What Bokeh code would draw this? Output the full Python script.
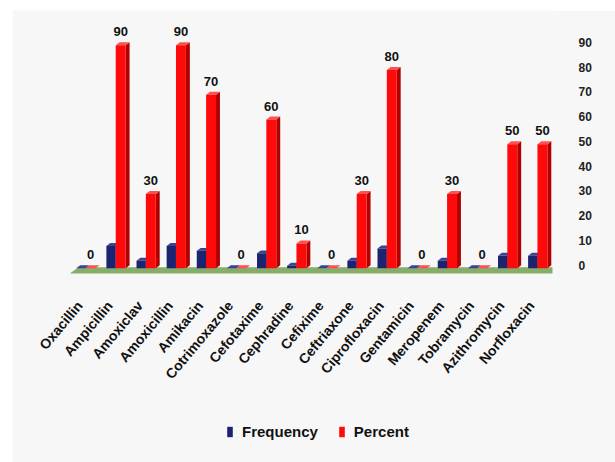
import math
from bokeh.plotting import figure
from bokeh.models import Range1d, FixedTicker, Legend, LegendItem
from bokeh.embed import file_html
from bokeh.resources import INLINE
from bokeh.core.properties import value

# Antibiotic susceptibility: frequency (n) and percent per drug
drugs = ["Oxacillin", "Ampicillin", "Amoxiclav", "Amoxicillin", "Amikacin",
         "Cotrimoxazole", "Cefotaxime", "Cephradine", "Cefixime", "Ceftriaxone",
         "Ciprofloxacin", "Gentamicin", "Meropenem", "Tobramycin",
         "Azithromycin", "Norfloxacin"]
frequency = [0, 9, 3, 9, 7, 0, 6, 1, 0, 3, 8, 0, 3, 0, 5, 5]
percent = [0, 90, 30, 90, 70, 0, 60, 10, 0, 30, 80, 0, 30, 0, 50, 50]
y_ticks = [0, 10, 20, 30, 40, 50, 60, 70, 80, 90]

FONT = "Liberation Sans"
BG = "#f7f7f7"

# pseudo-3D depth of the columns (x in category units, y in value units)
DX, DY = 0.13, 1.2

# frame spans the whole left part of the figure so slanted names are not clipped
p = figure(width=603, height=452,
           x_range=Range1d(-2.427, 15.5), y_range=Range1d(-78.4, 104.0),
           y_axis_location="right", x_axis_location=None,
           output_backend="svg", toolbar_location=None,
           min_border_left=0, min_border_right=63,
           min_border_top=0, min_border_bottom=0)
p.margin = (10, 0, 0, 12)
p.background_fill_color = BG
p.border_fill_color = BG
p.outline_line_color = None
p.grid.visible = False

# floor plane
n = len(drugs)
p.patch(x=[-0.52, n - 0.3, n - 0.3 + 0.28, -0.52 + 0.28],
        y=[-2.1, -2.1, 0.4, 0.4],
        fill_color="#87ad6a", line_color=None)


def column_set(vals, lo, hi, front, side, top):
    xs_side, ys_side, xs_top, ys_top = [], [], [], []
    for i, v in enumerate(vals):
        l, r = i + lo, i + hi
        xs_side.append([r, r + DX, r + DX, r])
        ys_side.append([0, DY, v + DY, v])
        xs_top.append([l, l + DX, r + DX, r])
        ys_top.append([v, v + DY, v + DY, v])
    p.patches(xs=xs_side, ys=ys_side, fill_color=side, line_color=None)
    p.patches(xs=xs_top, ys=ys_top, fill_color=top, line_color=None)
    return p.quad(left=[i + lo for i in range(len(vals))],
                  right=[i + hi for i in range(len(vals))],
                  bottom=0, top=vals, fill_color=front, line_color=None)


freq_r = column_set(frequency, -0.31, 0.0, "#1c2470", "#0e1345", "#3a4394")
pct_r = column_set(percent, 0.0, 0.33, "#ff0a0a", "#b00000", "#ff5050")

# value labels above the Percent columns
p.text(x=[i + 0.165 for i in range(n)], y=percent, text=[str(v) for v in percent],
       y_offset=-9, text_align="center", text_baseline="bottom",
       text_font=value(FONT), text_font_style="bold", text_font_size="13px",
       text_color="#111111")

# slanted drug names under the floor
p.text(x=[i - 0.2 for i in range(n)], y=[-14] * n, text=drugs,
       angle=math.radians(50), text_align="right", text_baseline="middle",
       text_font=value(FONT), text_font_style="bold", text_font_size="14px",
       text_color="#111111")

# y axis on the back wall
ya = p.yaxis[0]
ya.ticker = FixedTicker(ticks=[t + DY for t in y_ticks])
ya.major_label_overrides = {t + DY: str(t) for t in y_ticks}
ya.axis_line_color = None
ya.major_tick_line_color = None
ya.minor_tick_line_color = None
ya.major_label_standoff = 20
ya.major_label_text_font = FONT
ya.major_label_text_font_style = "bold"
ya.major_label_text_font_size = "12px"
ya.major_label_text_color = "#222222"

legend = Legend(items=[LegendItem(label="Frequency", renderers=[freq_r]),
                       LegendItem(label="Percent", renderers=[pct_r])],
                orientation="horizontal", location=(214, 22),
                glyph_width=7, glyph_height=13, label_standoff=9, spacing=20,
                padding=0, margin=0, border_line_color=None,
                background_fill_alpha=0,
                label_text_font=FONT, label_text_font_style="bold",
                label_text_font_size="15px", label_text_color="#111111")
p.add_layout(legend)

open("out.html", "w").write(file_html(p, INLINE))
